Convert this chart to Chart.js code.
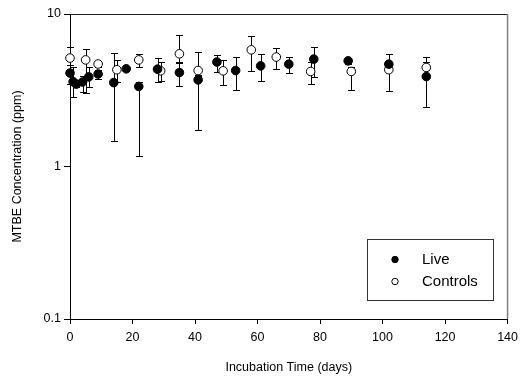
<!DOCTYPE html>
<html>
<head>
<meta charset="utf-8">
<script src="https://cdn.jsdelivr.net/npm/chart.js@4"></script>
<style>
  html, body { margin: 0; padding: 0; background: #fff; }
  #wrap { width: 524px; height: 381px; }
</style>
</head>
<body>
<div id="wrap"><canvas id="myChart" width="524" height="381"></canvas></div>
<script>
// Live cultures
const liveDays = [0, 1, 2, 4, 6, 9, 14, 18, 22, 28, 35, 41, 47, 53, 61, 70, 78, 89, 102, 114];
const liveConc = [4.1, 3.6, 3.47, 3.58, 3.87, 4.04, 3.55, 4.37, 3.35, 4.35, 4.13, 3.7, 4.84, 4.26, 4.57, 4.69, 5.06, 4.93, 4.69, 3.89];
const liveLow  = [3.5, 2.85, 3.3, 3.1, 3.3, 3.75, 1.46, 4.2, 1.17, 3.58, 3.38, 1.74, 4.16, 3.18, 3.61, 4.1, 3.89, 4.7, 4.3, 2.47];
const liveHigh = [4.6, 4.5, 3.7, 3.9, 4.5, 4.3, 5.59, 4.5, 3.6, 5.14, 4.8, 4.0, 5.38, 5.26, 5.46, 5.22, 6.12, 5.16, 5.46, 4.84];

// Killed controls
const ctrlDays = [0, 5, 9, 15, 22, 29, 35, 41, 49, 58, 66, 77, 90, 102, 114];
const ctrlConc = [5.14, 5.0, 4.7, 4.31, 5.0, 4.24, 5.48, 4.26, 4.24, 5.82, 5.22, 4.2, 4.2, 4.31, 4.46];
const ctrlLow  = [4.6, 3.05, 4.5, 3.6, 4.5, 3.61, 4.81, 3.9, 3.43, 4.26, 4.35, 3.49, 3.18, 3.14, 4.3];
const ctrlHigh = [6.12, 5.9, 4.9, 5.03, 5.48, 4.88, 7.3, 5.62, 4.96, 7.22, 6.03, 4.81, 4.5, 4.6, 5.22];

const yTicks = [0.1, 1, 10];
const seriesNames = ['Live', 'Controls'];

const FONT = 'Arial, "Liberation Sans", sans-serif';

function pts(days, conc, low, high) {
    return days.map((d, i) => ({ x: d, y: conc[i], yMin: low[i], yMax: high[i] }));
}

// error bars drawn under the markers
const errorBars = {
    id: 'errorBars',
    beforeDatasetsDraw(chart) {
        const ctx = chart.ctx;
        const xs = chart.scales.x, ys = chart.scales.y;
        ctx.save();
        ctx.strokeStyle = '#000';
        ctx.lineWidth = 1;
        chart.data.datasets.forEach(ds => {
            ds.data.forEach(p => {
                const px = Math.round(xs.getPixelForValue(p.x)) + 0.5;
                const y1 = Math.round(ys.getPixelForValue(p.yMin)) + 0.5;
                const y2 = Math.round(ys.getPixelForValue(p.yMax)) + 0.5;
                ctx.beginPath();
                ctx.moveTo(px, y1); ctx.lineTo(px, y2);
                ctx.moveTo(px - 3.5, y1); ctx.lineTo(px + 3.5, y1);
                ctx.moveTo(px - 3.5, y2); ctx.lineTo(px + 3.5, y2);
                ctx.stroke();
            });
        });
        ctx.restore();
    }
};

// frame on top/right and the boxed legend
const frameLegend = {
    id: 'frameLegend',
    afterDraw(chart) {
        const ctx = chart.ctx;
        const a = chart.chartArea;
        ctx.save();
        ctx.lineWidth = 1;
        ctx.strokeStyle = '#222';
        ctx.beginPath();
        ctx.moveTo(a.left, a.top + 0.5); ctx.lineTo(a.right, a.top + 0.5);
        ctx.stroke();
        ctx.strokeStyle = '#808080';
        ctx.lineWidth = 1.5;
        ctx.beginPath();
        ctx.moveTo(a.right, a.top); ctx.lineTo(a.right, a.bottom);
        ctx.stroke();

        // legend box
        const bx = 367.5, by = 239.5, bw = 126, bh = 61;
        ctx.lineWidth = 1;
        ctx.strokeStyle = '#333';
        ctx.strokeRect(bx, by, bw, bh);
        ctx.font = '15px ' + FONT;
        ctx.fillStyle = '#000';
        ctx.textBaseline = 'middle';
        const rows = [259.5, 281.5];
        rows.forEach((ry, i) => {
            ctx.beginPath();
            ctx.arc(395, ry, 3.2, 0, Math.PI * 2);
            ctx.fillStyle = i === 0 ? '#000' : '#fff';
            ctx.fill();
            ctx.strokeStyle = '#000';
            ctx.stroke();
            ctx.fillStyle = '#000';
            ctx.fillText(seriesNames[i], 422, ry + 0.5);
        });
        ctx.restore();
    }
};

const ctx = document.getElementById('myChart').getContext('2d');
const myChart = new Chart(ctx, {
    type: 'scatter',
    data: {
        datasets: [
            {
                label: seriesNames[0],
                data: pts(liveDays, liveConc, liveLow, liveHigh),
                clip: false,
                pointRadius: 4.3,
                pointBackgroundColor: '#000',
                pointBorderColor: '#000',
                pointBorderWidth: 1
            },
            {
                label: seriesNames[1],
                data: pts(ctrlDays, ctrlConc, ctrlLow, ctrlHigh),
                clip: false,
                pointRadius: 4.3,
                pointBackgroundColor: '#fff',
                pointBorderColor: '#000',
                pointBorderWidth: 1
            }
        ]
    },
    options: {
        responsive: false,
        animation: false,
        events: [],
        layout: { padding: { left: 0, top: 14, right: 15, bottom: 0 } },
        plugins: {
            legend: { display: false },
            tooltip: { enabled: false }
        },
        scales: {
            x: {
                type: 'linear',
                min: 0, max: 140,
                afterFit(s) { s.height = 62; },
                ticks: { stepSize: 20, color: '#000', font: { family: FONT, size: 12.5 }, padding: 6, maxRotation: 0 },
                grid: { drawOnChartArea: false, color: '#000', tickLength: 5, tickColor: '#000' },
                border: { color: '#000', width: 1 },
                title: { display: true, text: 'Incubation Time (days)', color: '#000', font: { family: FONT, size: 12.5 }, padding: { top: 0, bottom: 6 } }
            },
            y: {
                type: 'logarithmic',
                min: 0.1, max: 10,
                afterFit(s) { s.width = 70; },
                afterBuildTicks(s) { s.ticks = yTicks.map(v => ({ value: v })); },
                ticks: {
                    color: '#000', font: { family: FONT, size: 12.5 }, padding: 3,
                    callback: v => String(v)
                },
                grid: { drawOnChartArea: false, color: '#000', tickLength: 6, tickColor: '#000' },
                border: { color: '#000', width: 1 },
                title: { display: true, text: 'MTBE Concentration (ppm)', color: '#000', font: { family: FONT, size: 12.5 }, padding: { top: 10, bottom: 0 } }
            }
        }
    },
    plugins: [errorBars, frameLegend]
});
</script>
</body>
</html>
